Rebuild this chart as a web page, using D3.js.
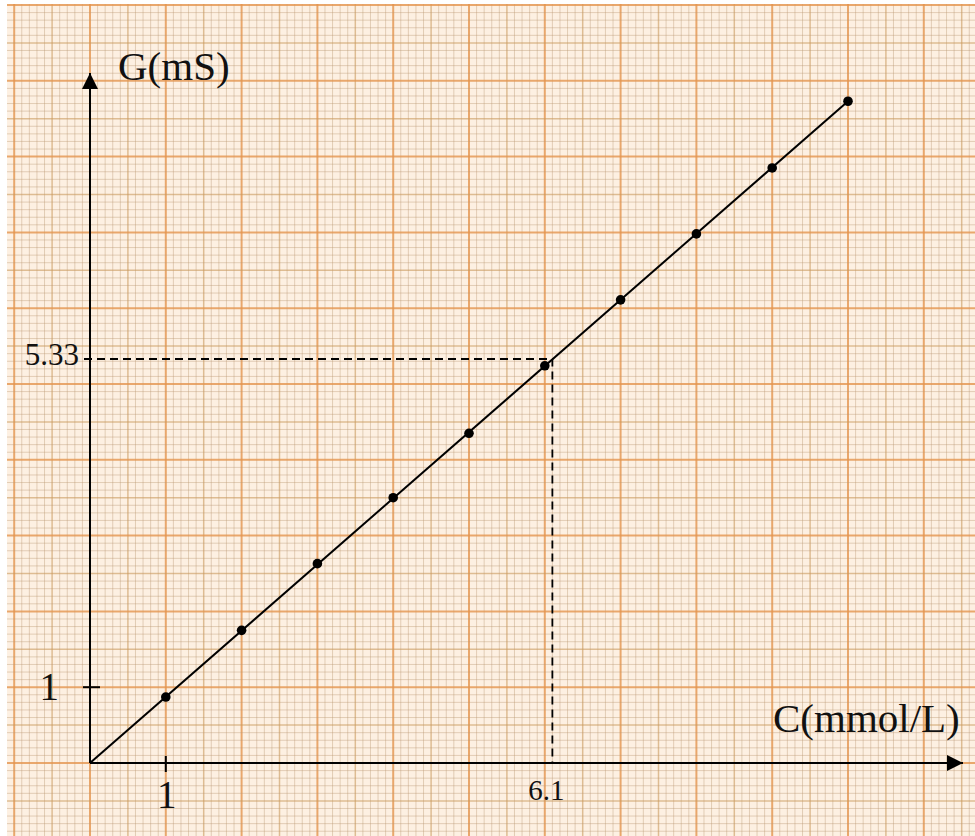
<!DOCTYPE html>
<html>
<head>
<meta charset="utf-8">
<script src="https://cdn.jsdelivr.net/npm/d3@7"></script>
<style>
  body { margin: 0; background: #fff; }
  text { font-family: "Liberation Serif", "Times New Roman", serif; fill: #111; }
</style>
</head>
<body>
<div id="chart"></div>
<script>
// data
var concentration = [1, 2, 3, 4, 5, 6, 7, 8, 9, 10];
var conductance = [0.87, 1.75, 2.63, 3.50, 4.35, 5.24, 6.11, 6.98, 7.85, 8.73];
var lineEnd = [10, 8.73];
var readC = 6.1, readG = 5.33;
var xTickLabels = ["1"], yTickLabels = ["1"];

var width = 975,
    height = 836,
    origin = {x: 90, y: 763},
    unit = 75.8;

var svg = d3.select("#chart").append("svg")
    .attr("width", width)
    .attr("height", height);

var x = d3.scaleLinear().domain([0, 1]).range([origin.x, origin.x + unit]),
    y = d3.scaleLinear().domain([0, 1]).range([origin.y, origin.y - unit]);

// graph paper
svg.append("rect")
    .attr("x", 7).attr("y", 4)
    .attr("width", width - 7).attr("height", height - 4)
    .attr("fill", "#fdf0e2");

var paper = svg.append("g");
var xMin = x.invert(7), xMax = x.invert(width),
    yMin = y.invert(height), yMax = y.invert(4);

function gridVals(lo, hi) {
  var out = [];
  for (var k = Math.ceil(lo * 10); k <= Math.floor(hi * 10); k++) out.push(k);
  return out;
}
function style(k) {
  if (k % 10 === 0) return {c: "#e3954f", w: 2, o: 0.8};
  if (k % 5 === 0) return {c: "#c99a5e", w: 1.5, o: 0.6};
  return {c: "#b99873", w: 0.9, o: 0.45};
}

paper.selectAll("line.v").data(gridVals(xMin, xMax)).enter()
  .append("line").attr("class", "v")
    .attr("x1", function (k) { return x(k / 10); })
    .attr("x2", function (k) { return x(k / 10); })
    .attr("y1", 4).attr("y2", height)
    .attr("stroke", function (k) { return style(k).c; })
    .attr("stroke-width", function (k) { return style(k).w; })
    .attr("stroke-opacity", function (k) { return style(k).o; });

paper.selectAll("line.h").data(gridVals(yMin, yMax)).enter()
  .append("line").attr("class", "h")
    .attr("y1", function (k) { return y(k / 10); })
    .attr("y2", function (k) { return y(k / 10); })
    .attr("x1", 7).attr("x2", width)
    .attr("stroke", function (k) { return style(k).c; })
    .attr("stroke-width", function (k) { return style(k).w; })
    .attr("stroke-opacity", function (k) { return style(k).o; });

// axes with arrows
svg.append("defs").append("marker")
    .attr("id", "arrow")
    .attr("viewBox", "0 0 10 10")
    .attr("refX", 10).attr("refY", 5)
    .attr("markerWidth", 8).attr("markerHeight", 8)
    .attr("markerUnits", "strokeWidth")
    .attr("orient", "auto")
  .append("path")
    .attr("d", "M0,0 L10,5 L0,10 z")
    .attr("fill", "#000");

svg.append("line")
    .attr("x1", x(0)).attr("y1", y(0))
    .attr("x2", 963).attr("y2", y(0))
    .attr("stroke", "#000").attr("stroke-width", 2)
    .attr("marker-end", "url(#arrow)");

svg.append("line")
    .attr("x1", x(0)).attr("y1", y(0))
    .attr("x2", x(0)).attr("y2", 73)
    .attr("stroke", "#000").attr("stroke-width", 2)
    .attr("marker-end", "url(#arrow)");

// ticks
svg.selectAll("line.xt").data(xTickLabels).enter()
  .append("line")
    .attr("x1", function (d) { return x(+d); })
    .attr("x2", function (d) { return x(+d); })
    .attr("y1", y(0) - 7).attr("y2", y(0) + 9)
    .attr("stroke", "#000").attr("stroke-width", 2);
svg.selectAll("text.xt").data(xTickLabels).enter()
  .append("text")
    .attr("x", function (d) { return x(+d) + 1; })
    .attr("y", 808)
    .attr("text-anchor", "middle")
    .attr("font-size", 39)
    .text(function (d) { return d; });

svg.selectAll("line.yt").data(yTickLabels).enter()
  .append("line")
    .attr("y1", function (d) { return y(+d); })
    .attr("y2", function (d) { return y(+d); })
    .attr("x1", x(0) - 7).attr("x2", x(0) + 10)
    .attr("stroke", "#000").attr("stroke-width", 2);
svg.selectAll("text.yt").data(yTickLabels).enter()
  .append("text")
    .attr("x", 59)
    .attr("y", function (d) { return y(+d) + 13; })
    .attr("text-anchor", "end")
    .attr("font-size", 39)
    .text(function (d) { return d; });

// dashed reading lines
svg.append("path")
    .attr("d", "M" + (x(0) - 6) + "," + y(readG) + "H" + x(readC) + "V" + y(0))
    .attr("fill", "none")
    .attr("stroke", "#000").attr("stroke-width", 1.8)
    .attr("stroke-dasharray", "8,5");

svg.append("text")
    .attr("x", 79).attr("y", y(readG) + 6)
    .attr("text-anchor", "end")
    .attr("font-size", 31)
    .text(readG);

svg.append("text")
    .attr("x", x(readC) - 6).attr("y", 800)
    .attr("text-anchor", "middle")
    .attr("font-size", 29)
    .text(readC);

// fitted line
svg.append("line")
    .attr("x1", x(0)).attr("y1", y(0))
    .attr("x2", x(lineEnd[0])).attr("y2", y(lineEnd[1]))
    .attr("stroke", "#000").attr("stroke-width", 2);

// points
svg.selectAll("circle").data(concentration).enter()
  .append("circle")
    .attr("cx", function (d) { return x(d); })
    .attr("cy", function (d, i) { return y(conductance[i]); })
    .attr("r", 4.8)
    .attr("fill", "#000");

// axis titles
svg.append("text")
    .attr("x", 118).attr("y", 80)
    .attr("font-size", 41)
    .text("G(mS)");

svg.append("text")
    .attr("x", 773).attr("y", 732)
    .attr("font-size", 41)
    .text("C(mmol/L)");
</script>
</body>
</html>
